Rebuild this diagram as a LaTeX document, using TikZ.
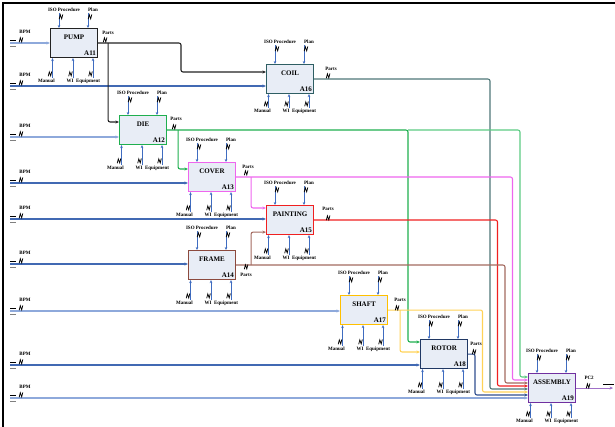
\documentclass[tikz,border=0pt]{standalone}
\usepackage{fontspec}
\setmainfont{Liberation Serif}
\usetikzlibrary{arrows.meta,positioning,calc}
\definecolor{boxfill}{HTML}{E8EDF6}
\definecolor{icomblue}{HTML}{3F6CC0}
\definecolor{bpmlight}{HTML}{8EA9DB}
\definecolor{bpmdark}{HTML}{4169B3}
\definecolor{pumpcol}{HTML}{222222}
\definecolor{coilcol}{HTML}{2E5E63}
\definecolor{coilln}{HTML}{4F7778}
\definecolor{diecol}{HTML}{1FAF4F}
\definecolor{dieln}{HTML}{5CCB82}
\definecolor{covercol}{HTML}{EE66EE}
\definecolor{paintcol}{HTML}{F02020}
\definecolor{framecol}{HTML}{8C4A3E}
\definecolor{frameln}{HTML}{A36A60}
\definecolor{shaftcol}{HTML}{FFC000}
\definecolor{shaftln}{HTML}{FFD257}
\definecolor{rotorcol}{HTML}{203864}
\definecolor{rotorln}{HTML}{2F4F8F}
\definecolor{asmcol}{HTML}{7030A0}
\definecolor{asmln}{HTML}{A070C8}
\tikzset{
	box/.style={draw, line width=1.1pt, fill=boxfill, anchor=north west, minimum width=47pt, minimum height=29pt, inner sep=0pt},
	ttl/.style={font=\fontsize{7}{8}\selectfont\bfseries, inner sep=0pt},
	num/.style={anchor=south east, font=\fontsize{7}{8}\selectfont\bfseries, inner sep=0pt},
	tag/.style={font=\fontsize{5}{6}\selectfont\bfseries, inner sep=0pt},
	icom/.style={-{Stealth[length=3pt,width=2.6pt]}, line width=0.9pt, draw=icomblue},
	flow/.style={-{Stealth[length=3.6pt,width=3pt]}, line width=1.1pt, rounded corners=2pt},
	squig/.pic={\draw[line width=0.75pt] (-1.8,2.2)--(-0.7,-2.2)--(0.7,1.8)--(1.8,-2.6);}
}

\begin{document}
\begin{tikzpicture}[x=1pt, y=-1pt]
	\useasboundingbox (0,0) rectangle (615,427);
	\draw[line width=1.4pt] (3,427) -- (3,3) -- (615,3);

	% activity boxes with controls and mechanisms
	\foreach \nm/\x/\y/\ti/\an/\co/\cl/\ml in {
		pump/50/28/PUMP/A11/pumpcol/15/20,
		coil/266/64/COIL/A16/coilcol/19/14,
		die/119/115/DIE/A12/diecol/19/20,
		cover/188/162/COVER/A13/covercol/19/20,
		painting/266/205/PAINTING/A15/paintcol/19/20,
		frame/188/250/FRAME/A14/framecol/19/20,
		shaft/340/295/SHAFT/A17/shaftcol/19/21,
		rotor/420/339/ROTOR/A18/rotorcol/19/20,
		assembly/528/373/ASSEMBLY/A19/asmcol/19/15}{
		\node[box, draw=\co] (\nm) at (\x,\y) {};
		\node[ttl] (\nm-t) at ($(\nm.north)+(0,9)$) {\ti};
		\node[num] (\nm-a) at ($(\nm.south east)+(-2,-2)$) {\an};
		\coordinate (\nm-c1) at ($(\nm.north west)+(9,-\cl)$);
		\coordinate (\nm-c2) at ($(\nm.north west)+(38,-\cl)$);
		\draw[icom] (\nm-c1) -- (\nm-c1 |- \nm.north);
		\draw[icom] (\nm-c2) -- (\nm-c2 |- \nm.north);
		\pic at ($(\nm-c1)+(2,4)$) {squig};
		\pic at ($(\nm-c2)+(2,4)$) {squig};
		\node[tag, anchor=south] (\nm-iso) at ($(\nm-c1)+(5,-1)$) {ISO Procedure};
		\node[tag, anchor=south] (\nm-pl) at ($(\nm-c2)+(5,-1)$) {Plan};
		\coordinate (\nm-m1) at ($(\nm.south west)+(2.5,\ml)$);
		\coordinate (\nm-m2) at ($(\nm.south west)+(23,\ml)$);
		\coordinate (\nm-m3) at ($(\nm.south west)+(43,\ml)$);
		\foreach \k in {1,2,3}{
			\draw[icom] (\nm-m\k) -- (\nm-m\k |- \nm.south);
			\pic at ($(\nm-m\k)+(-2.5,-4)$) {squig};
		}
		\node[tag, anchor=north] (\nm-man) at ($(\nm-m1)+(-6,1)$) {Manual};
		\node[tag, anchor=north] (\nm-wi) at ($(\nm-m2)+(-3,1)$) {WI};
		\node[tag, anchor=north] (\nm-eq) at ($(\nm-m3)+(-5,1)$) {Equipment};
	}

	% BPM inputs
	\foreach \nm/\y/\sty in {pump/43/bpmlight, coil/86/bpmdark, die/137/bpmlight,
		cover/183/bpmdark, painting/219/bpmdark, frame/264/bpmdark,
		shaft/311/bpmlight, rotor/365/bpmdark, assembly/398/bpmlight}{
		\coordinate (in-\nm) at (10,\y);
		\draw[flow, draw=\sty] (in-\nm) -- (in-\nm -| \nm.west);
		\draw[line width=0.8pt] (10,\y-3) -- (16,\y-3);
		\draw[line width=0.8pt, gray] (10,\y+3) -- (16,\y+3);
		\pic at (21,\y-3) {squig};
		\node[tag] (in-\nm-t) at (25,\y-11) {BPM};
	}

	% outputs
	\draw[flow, draw=pumpcol] (pump.east) -| ($(coil.north west)+(-85,8)$) -- ($(coil.north west)+(0,8)$);
	\draw[flow, draw=pumpcol] ($(pump.east)+(10,0)$) |- ($(die.north west)+(0,7)$);
	\draw[flow, draw=coilln] (coil.east) -| ($(assembly.north west)+(-38,16)$) -- ($(assembly.north west)+(0,16)$);
	\coordinate (die-j) at ($(rotor.north west)+(-12,0)$);
	\draw[flow, draw=dieln] (die-j |- die.east) -| ($(assembly.north west)+(-8,4)$) -- ($(assembly.north west)+(0,4)$);
	\draw[flow, draw=diecol] (die.east) -| ($(rotor.north west)+(-12,3)$) -- ($(rotor.north west)+(0,3)$);
	\draw[flow, draw=diecol] ($(die.east)+(11,0)$) |- ($(cover.north west)+(0,7)$);
	\draw[flow, draw=covercol] (cover.east) -| ($(assembly.north west)+(-15.5,7)$) -- ($(assembly.north west)+(0,7)$);
	\draw[flow, draw=covercol] ($(cover.east)+(15,0)$) |- ($(painting.north west)+(0,3)$);
	\draw[flow, draw=paintcol] (painting.east) -| ($(assembly.north west)+(-30.5,13)$) -- ($(assembly.north west)+(0,13)$);
	\draw[flow, draw=frameln] (frame.east) -| ($(assembly.north west)+(-23,10)$) -- ($(assembly.north west)+(0,10)$);
	\draw[flow, draw=frameln] ($(frame.east)+(15,0)$) |- ($(painting.south west)+(0,-3)$);
	\draw[flow, draw=shaftln] (shaft.east) -| ($(assembly.north west)+(-45.5,19)$) -- ($(assembly.north west)+(0,19)$);
	\draw[flow, draw=shaftln] ($(shaft.east)+(12,0)$) |- ($(rotor.north west)+(0,13)$);
	\draw[flow, draw=rotorln] (rotor.east) -| ($(assembly.north west)+(-53,22)$) -- ($(assembly.north west)+(0,22)$);
	\coordinate (out) at ($(assembly.east)+(37,0)$);
	\draw[flow, draw=asmln] (assembly.east) -- (out);
	\draw[line width=0.8pt] ($(out)+(-10,-4)$) -- ($(out)+(1,-4)$);

	% output labels
	\foreach \nm/\px/\py/\qx/\qy/\lab in {pump/10/-10/7/-3/Parts, coil/17/-10/14/-3/Parts,
		die/9/-11/7/-3/Parts, cover/12/-10/10/-4/Parts, painting/14/-11/14/-2/Parts,
		frame/10/10/10/2/Parts, shaft/12/-10/9/-2/Parts, rotor/8/-10/6/-2/Parts,
		assembly/13/-10/12/-2/PC2}{
		\node[tag] (\nm-p) at ($(\nm.east)+(\px,\py)$) {\lab};
		\pic at ($(\nm.east)+(\qx,\qy)$) {squig};
	}
\end{tikzpicture}
\end{document}
